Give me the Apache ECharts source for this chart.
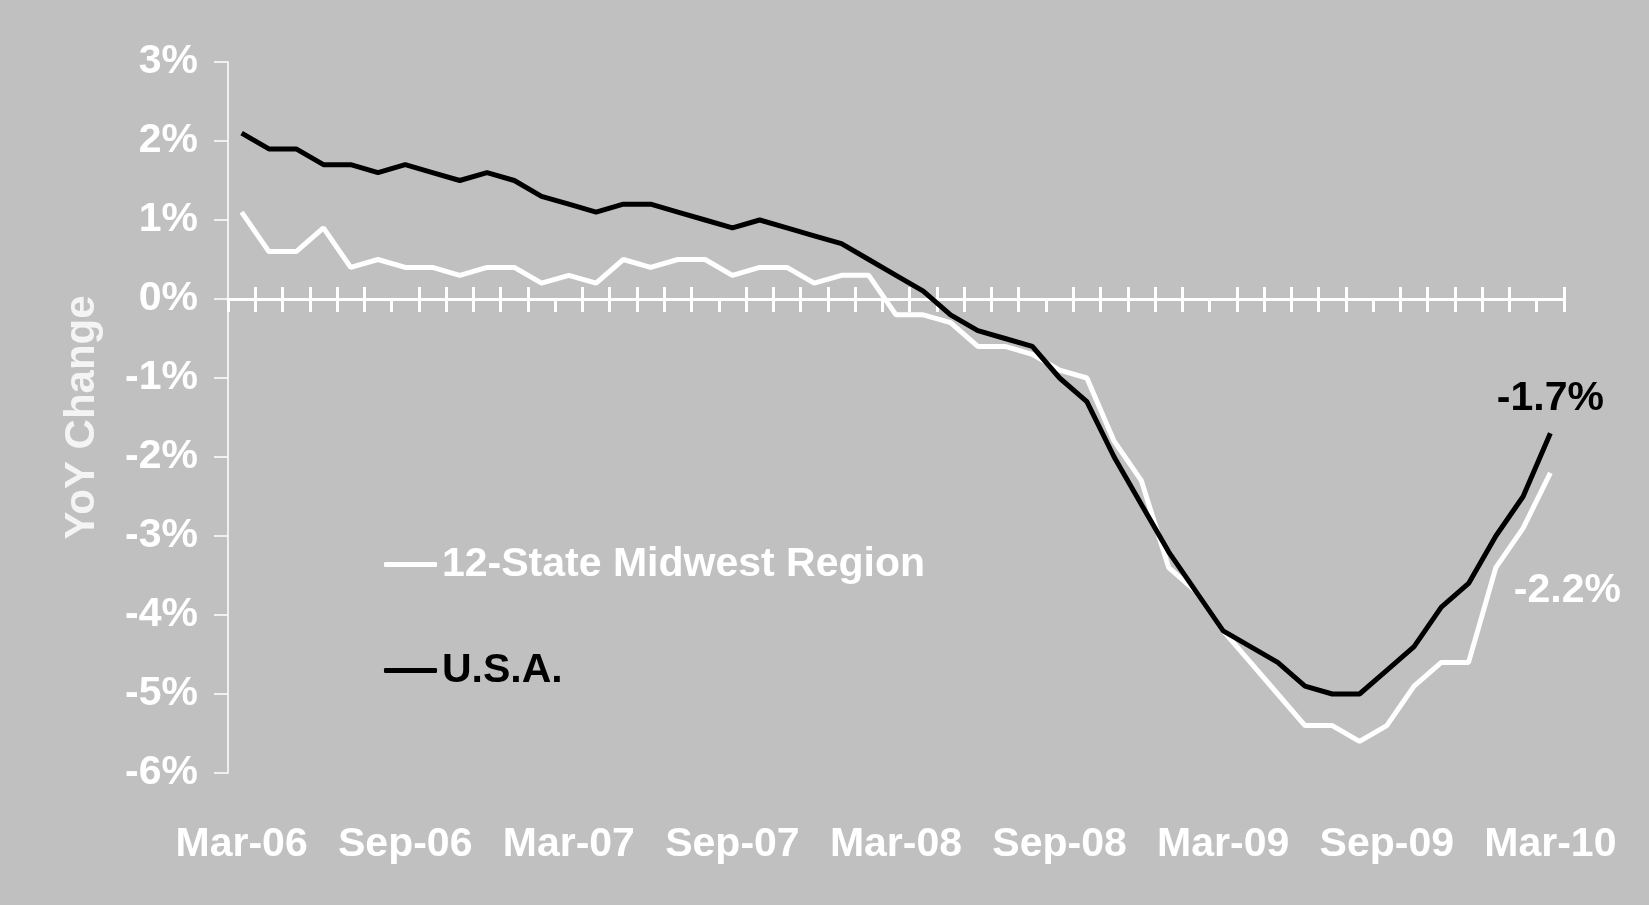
<!DOCTYPE html>
<html>
<head>
<meta charset="utf-8">
<script src="https://cdn.jsdelivr.net/npm/echarts@6/dist/echarts.min.js"></script>
<style>
  html, body { margin: 0; padding: 0; background: #c0c0c0; }
  #main { width: 1649px; height: 905px; }
</style>
</head>
<body>
<div id="main"></div>
<script>
const months = [
  'Mar-06', 'Apr-06', 'May-06', 'Jun-06', 'Jul-06', 'Aug-06', 'Sep-06', 'Oct-06', 'Nov-06', 'Dec-06',
  'Jan-07', 'Feb-07', 'Mar-07', 'Apr-07', 'May-07', 'Jun-07', 'Jul-07', 'Aug-07', 'Sep-07', 'Oct-07',
  'Nov-07', 'Dec-07', 'Jan-08', 'Feb-08', 'Mar-08', 'Apr-08', 'May-08', 'Jun-08', 'Jul-08', 'Aug-08',
  'Sep-08', 'Oct-08', 'Nov-08', 'Dec-08', 'Jan-09', 'Feb-09', 'Mar-09', 'Apr-09', 'May-09', 'Jun-09',
  'Jul-09', 'Aug-09', 'Sep-09', 'Oct-09', 'Nov-09', 'Dec-09', 'Jan-10', 'Feb-10', 'Mar-10'
];

// YoY change, percent
const midwest = [
  1.1, 0.6, 0.6, 0.9, 0.4, 0.5, 0.4, 0.4, 0.3, 0.4,
  0.4, 0.2, 0.3, 0.2, 0.5, 0.4, 0.5, 0.5, 0.3, 0.4,
  0.4, 0.2, 0.3, 0.3, -0.2, -0.2, -0.3, -0.6, -0.6, -0.7,
  -0.9, -1.0, -1.8, -2.3, -3.4, -3.7, -4.2, -4.6, -5.0, -5.4,
  -5.4, -5.6, -5.4, -4.9, -4.6, -4.6, -3.4, -2.9, -2.2
];
const usa = [
  2.1, 1.9, 1.9, 1.7, 1.7, 1.6, 1.7, 1.6, 1.5, 1.6,
  1.5, 1.3, 1.2, 1.1, 1.2, 1.2, 1.1, 1.0, 0.9, 1.0,
  0.9, 0.8, 0.7, 0.5, 0.3, 0.1, -0.2, -0.4, -0.5, -0.6,
  -1.0, -1.3, -2.0, -2.6, -3.2, -3.7, -4.2, -4.4, -4.6, -4.9,
  -5.0, -5.0, -4.7, -4.4, -3.9, -3.6, -3.0, -2.5, -1.7
];

const yMin = -6;
const yMax = 3;

const font = '"Liberation Sans", Arial, Helvetica, sans-serif';
const lastIdx = months.length - 1;

function lastValue(p) {
  return p.dataIndex === lastIdx ? p.value.toFixed(1) + '%' : '';
}

const myChart = echarts.init(document.getElementById('main'));

const option = {
  animation: false,
  backgroundColor: '#c0c0c0',
  grid: { left: 228, right: 85, top: 62, bottom: 132 },
  legend: {
    orient: 'vertical',
    left: 379,
    top: 539,
    itemWidth: 53,
    itemHeight: 5,
    itemGap: 65,
    icon: 'roundRect',
    textStyle: { fontFamily: font, fontWeight: 'bold', fontSize: 41 },
    data: [
      { name: '12-State Midwest Region', textStyle: { color: '#ffffff' } },
      { name: 'U.S.A.', textStyle: { color: '#000000' } }
    ]
  },
  xAxis: [
    {
      // zero line, ticks above the line
      type: 'category',
      data: months,
      position: 'bottom',
      boundaryGap: true,
      axisLine: { onZero: true, onZeroAxisIndex: 0, lineStyle: { color: '#ffffff', width: 3 } },
      axisTick: {
        show: true,
        inside: true,
        length: 12,
        interval: function (index) { return index % 6 !== 0; },
        lineStyle: { color: '#ffffff', width: 3 }
      },
      axisLabel: { show: false },
      splitLine: { show: false }
    },
    {
      // zero line, ticks below the line
      type: 'category',
      data: months,
      position: 'bottom',
      boundaryGap: true,
      axisLine: { show: true, onZero: true, onZeroAxisIndex: 1, lineStyle: { color: '#ffffff', width: 3 } },
      axisTick: {
        show: true,
        length: 13,
        interval: 0,
        lineStyle: { color: '#ffffff', width: 3 }
      },
      axisLabel: { show: false },
      splitLine: { show: false }
    },
    {
      // month labels along the bottom
      type: 'category',
      data: months,
      position: 'bottom',
      boundaryGap: true,
      axisLine: { show: false, onZero: false },
      axisTick: { show: false },
      axisLabel: {
        interval: 5,
        margin: 51,
        color: '#ffffff',
        fontFamily: font,
        fontWeight: 'bold',
        fontSize: 41
      },
      splitLine: { show: false }
    }
  ],
  yAxis: [
    {
      type: 'value',
      min: yMin,
      max: yMax,
      interval: 1,
      name: 'YoY Change',
      nameLocation: 'middle',
      nameGap: 125,
      nameTextStyle: {
        color: '#f4f4f4',
        fontFamily: font,
        fontWeight: 'bold',
        fontSize: 42
      },
      axisLine: { show: true, lineStyle: { color: '#ffffff', width: 1.5 } },
      axisTick: { show: true, length: 14, lineStyle: { color: '#ffffff', width: 1.5 } },
      axisLabel: {
        formatter: '{value}%',
        margin: 30,
        color: '#ffffff',
        fontFamily: font,
        fontWeight: 'bold',
        fontSize: 41
      },
      splitLine: { show: false }
    },
    {
      // hidden twin, only used to put the second tick row on zero
      type: 'value',
      min: yMin,
      max: yMax,
      interval: 1,
      show: false,
      splitLine: { show: false }
    }
  ],
  series: [
    {
      name: '12-State Midwest Region',
      type: 'line',
      data: midwest,
      symbol: 'circle',
      symbolSize: 0.01,
      showSymbol: true,
      color: '#ffffff',
      lineStyle: { color: '#ffffff', width: 5 },
      label: {
        show: true,
        position: 'bottom',
        distance: 97,
        offset: [17, 0],
        color: '#ffffff',
        fontFamily: font,
        fontWeight: 'bold',
        fontSize: 41,
        formatter: lastValue
      }
    },
    {
      name: 'U.S.A.',
      type: 'line',
      data: usa,
      symbol: 'circle',
      symbolSize: 0.01,
      showSymbol: true,
      color: '#000000',
      lineStyle: { color: '#000000', width: 5 },
      label: {
        show: true,
        position: 'top',
        distance: 14,
        color: '#000000',
        fontFamily: font,
        fontWeight: 'bold',
        fontSize: 41,
        formatter: lastValue
      }
    }
  ]
};

myChart.setOption(option);
</script>
</body>
</html>
